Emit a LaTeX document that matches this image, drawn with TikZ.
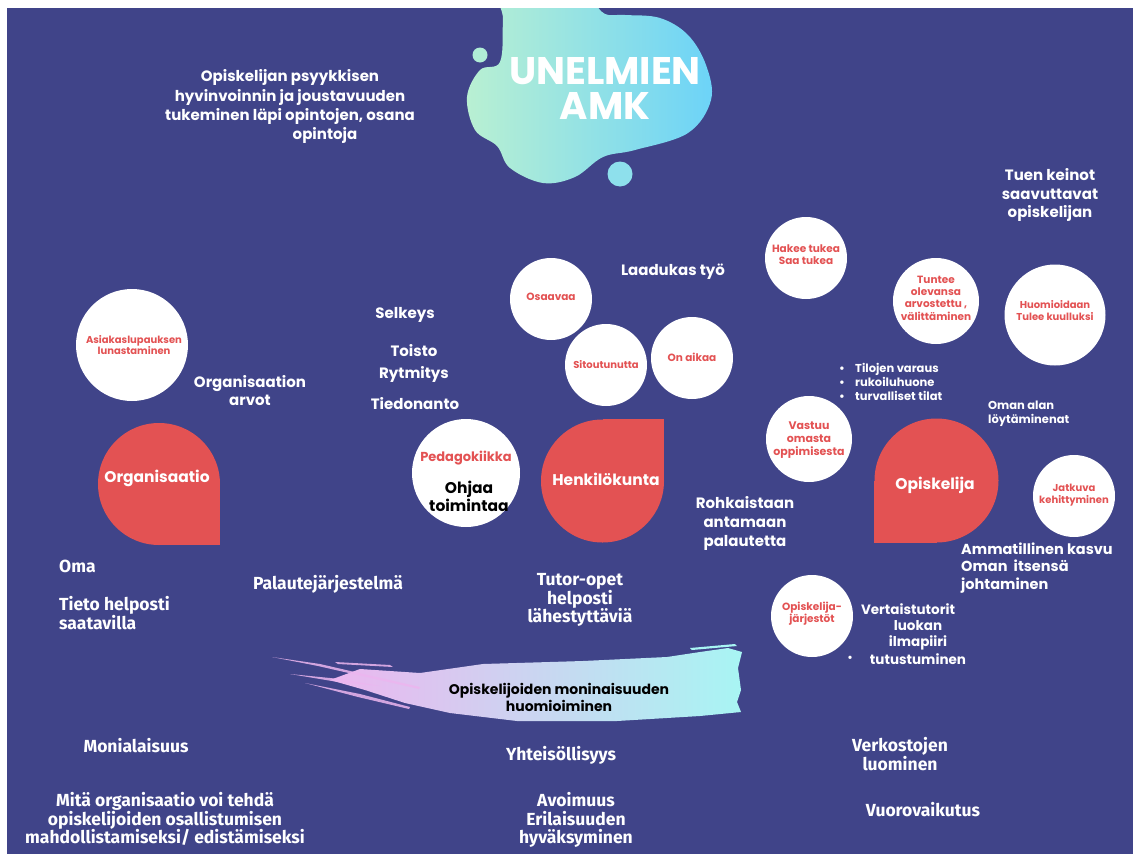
\documentclass[tikz,border=0pt]{standalone}
\usepackage{fontspec}
\setmainfont{Poppins}
\newfontfamily\cond{Fira Sans}
\definecolor{bgc}{RGB}{64,68,137}
\definecolor{redc}{RGB}{227,82,83}
\definecolor{mint}{RGB}{185,240,210}
\definecolor{sky}{RGB}{108,211,248}
\definecolor{dotA}{RGB}{176,237,214}
\definecolor{dotB}{RGB}{142,224,236}
\definecolor{brpink}{RGB}{236,182,239}
\definecolor{brcyan}{RGB}{168,245,243}
\tikzset{
  wt/.style={text=white,font=\bfseries\fontsize{15}{19}\selectfont,align=center,inner sep=0pt},
  wts/.style={text=white,font=\bfseries\fontsize{11}{14}\selectfont,align=left,inner sep=0pt},
  cd/.style={text=white,font=\cond\bfseries\fontsize{17.5}{18.5}\selectfont,align=center,inner sep=0pt},
  rt/.style={text=redc,font=\bfseries\fontsize{10}{12}\selectfont,align=center,inner sep=0pt},
  wcirc/.style={circle,fill=white,inner sep=0pt,minimum size=#1},
  dropc/.style={circle,fill=redc,inner sep=0pt,minimum size=#1},
  droptxt/.style={text=white,font=\bfseries\fontsize{15.5}{18}\selectfont,inner sep=0pt},
}
\begin{document}
\begin{tikzpicture}[x=1pt,y=-1pt]
\useasboundingbox (0,0) rectangle (1133,854);
\fill[white] (0,0) rectangle (1133,854);
\fill[bgc] (7,8) rectangle (1133,854);

% title blob
\begin{scope}
\clip (7,8) rectangle (1133,854);
\shade[left color=mint,right color=sky] plot[smooth cycle,tension=0.6] coordinates {
 (505,-10) (503,20) (500,62) (480,70) (467,97) (475,130) (497,146) (510,168)
 (543,183) (575,177) (603,157) (635,150) (688,133) (711,100) (706,65) (688,35)
 (660,18) (625,15) (605,14) (593,0) (590,-10)};
\end{scope}
\node[circle,fill=dotA,minimum size=15,inner sep=0pt] (dot1) at (480,55) {};
\node[circle,fill=dotB,minimum size=25,inner sep=0pt] (dot2) at (620,174) {};
\node[text=white,font=\bfseries\fontsize{38.5}{35}\selectfont,align=center,inner sep=0pt] (title) at (605,88) {UNELMIEN\\AMK};

% brush stroke
\shade[left color=brpink,right color=brcyan] (360,669) -- (420,673) -- (483,664) -- (583,661) -- (667,657) -- (700,652) -- (728,648) -- (742,652) -- (738,668) -- (741,690) -- (737,702) -- (741,712) -- (700,716) -- (617,721) -- (517,721) -- (450,713) -- (405,703) -- (365,690) -- (330,680) -- cycle;
\fill[brpink,opacity=0.85] (272,657) -- (320,664) -- (420,687) -- (419,689) -- (318,666) -- cycle;
\fill[brpink,opacity=0.85] (305,683) -- (360,694) -- (410,707) -- (409,709) -- (358,697) -- cycle;
\fill[brpink,opacity=0.85] (335,662) -- (390,665) -- (393,667) -- (338,664) -- cycle;
\fill[brpink,opacity=0.85] (290,674) -- (340,679) -- (380,686) -- (338,682) -- cycle;
\fill[brcyan] (690,648) -- (735,644) -- (737,646) -- (692,650) -- cycle;
\node[text=black,font=\bfseries\fontsize{14}{17}\selectfont,align=center,inner sep=0pt] (brush) at (559,697) {Opiskelijoiden moninaisuuden\\huomioiminen};

% top texts
\node[wt,font=\bfseries\fontsize{15}{19.5}\selectfont] (psy) at (290,97) {Opiskelijan psyykkisen\\hyvinvoinnin ja joustavuuden\\tukeminen läpi opintojen, osana};
\node[wt] (psy2) at (325,135) {opintoja};
\node[wt,font=\bfseries\fontsize{15}{18.5}\selectfont] (tuen) at (1050,195) {Tuen keinot\\saavuttavat\\opiskelijan};

% circles with red text
\node[wcirc=112] (asiak) at (132,345) {};
\node[rt,font=\bfseries\fontsize{10}{11.5}\selectfont] (asiakt) at (134,345) {Asiakaslupauksen\\lunastaminen};
\node[wcirc=82] (hakee) at (806,258) {};
\node[rt,font=\bfseries\fontsize{10.5}{12}\selectfont] (hakeet) at (806,255) {Hakee tukea\\Saa tukea};
\node[wcirc=86] (tuntee) at (936,301) {};
\node[rt,font=\bfseries\fontsize{10.5}{12.3}\selectfont] (tunteet) at (936,298) {Tuntee\\olevansa\\arvostettu ,\\välittäminen};
\node[wcirc=101] (huom) at (1055,315) {};
\node[rt] (huomt) at (1055,311) {Huomioidaan\\Tulee kuulluksi};
\node[wcirc=82] (osaa) at (551,299) {};
\node[rt,font=\bfseries\fontsize{10.5}{12}\selectfont] (osaat) at (551,297) {Osaavaa};
\node[wcirc=82] (sito) at (606,365) {};
\node[rt] (sitot) at (606,365) {Sitoutunutta};
\node[wcirc=82] (onai) at (692,358) {};
\node[rt,font=\bfseries\fontsize{10.5}{12}\selectfont] (onait) at (692,357) {On aikaa};
\node[wcirc=86] (vast) at (809,439) {};
\node[rt,font=\bfseries\fontsize{11}{13}\selectfont] (vastt) at (809,440) {Vastuu\\omasta\\oppimisesta};
\node[wcirc=82] (jatk) at (1074,496) {};
\node[rt] (jatkt) at (1074,495) {Jatkuva\\kehittyminen};
\node[wcirc=82] (opj) at (812,616) {};
\node[rt,font=\bfseries\fontsize{10.5}{12}\selectfont] (opjt) at (812,614) {Opiskelija-\\järjestöt};
\node[wcirc=108] (peda) at (466,473) {};
\node[rt,font=\bfseries\fontsize{13}{14}\selectfont] (pedat) at (466,458) {Pedagokiikka};
\node[text=black,font=\bfseries\fontsize{15.5}{18}\selectfont,align=center,inner sep=0pt] (ohj) at (469,496) {Ohjaa\\toimintaa};

% drop shapes
\node[dropc=122] (orgc) at (159,484) {};
\fill[redc] (orgc.center) rectangle (orgc.east |- orgc.south);
\node[droptxt] (orgt) at (157,478) {Organisaatio};
\node[dropc=123] (henc) at (602.5,481) {};
\fill[redc] (henc.center) rectangle (henc.east |- henc.north);
\node[droptxt] (hent) at (606,479) {Henkilökunta};
\node[dropc=124] (opic) at (936.5,480.5) {};
\fill[redc] (opic.center) rectangle (opic.west |- opic.south);
\node[droptxt] (opit) at (935,485) {Opiskelija};

% white labels
\node[wt] (laad) at (673,272) {Laadukas työ};
\node[wt] (selk) at (405,315) {Selkeys};
\node[wt] (toist) at (414,351) {Toisto};
\node[wt] (rytm) at (414,374) {Rytmitys};
\node[wt] (tied) at (415,404) {Tiedonanto};
\node[wt,font=\bfseries\fontsize{15}{18}\selectfont] (orgarv) at (250,391) {Organisaation\\arvot};
\node[wt] (rohk) at (745,523) {Rohkaistaan\\antamaan\\palautetta};
\node[wt,align=left,anchor=west,font=\bfseries\fontsize{14.5}{17.5}\selectfont] (ammat) at (961,568) {Ammatillinen kasvu\\Oman\ \ itsensä\\johtaminen};
\node[wts,anchor=west,font=\bfseries\fontsize{11.5}{14}\selectfont] (omanalan) at (988,414) {Oman alan\\löytäminenat};
\node[wts,anchor=west,font=\bfseries\fontsize{11.5}{14}\selectfont] (tilat) at (839,382) {\makebox[16pt][l]{\textbullet}Tilojen varaus\\\makebox[16pt][l]{\textbullet}rukoiluhuone\\\makebox[16pt][l]{\textbullet}turvalliset tilat};
\node[wt,font=\bfseries\fontsize{13.5}{16}\selectfont] (vert) at (908,609) {Vertaistutorit};
\node[wt,font=\bfseries\fontsize{13.5}{16}\selectfont] (vert2) at (918,635) {luokan\\ilmapiiri};
\node[wt,font=\bfseries\fontsize{13.5}{16}\selectfont] (vert3) at (918,659) {tutustuminen};
\node[wt,font=\bfseries\fontsize{11}{14}\selectfont] (vertb) at (850,659) {\textbullet};

% condensed labels
\node[cd,anchor=west] (oma) at (59,566) {Oma};
\node[cd,align=left,anchor=west] (tieto) at (59,613) {Tieto helposti\\saatavilla};
\node[cd] (pal) at (328,584) {Palautejärjestelmä};
\node[cd] (tutor) at (580,600) {Tutor-opet\\helposti\\lähestyttäviä};
\node[cd] (moni) at (136,746) {Monialaisuus};
\node[cd] (mita) at (165,819) {Mitä organisaatio voi tehdä\\opiskelijoiden osallistumisen\\mahdollistamiseksi/ edistämiseksi};
\node[cd] (yht) at (561,755) {Yhteisöllisyys};
\node[cd] (avo) at (576,820) {Avoimuus\\Erilaisuuden\\hyväksyminen};
\node[cd] (verk) at (900,754) {Verkostojen\\luominen};
\node[cd] (vuor) at (923,810) {Vuorovaikutus};
\end{tikzpicture}
\end{document}
